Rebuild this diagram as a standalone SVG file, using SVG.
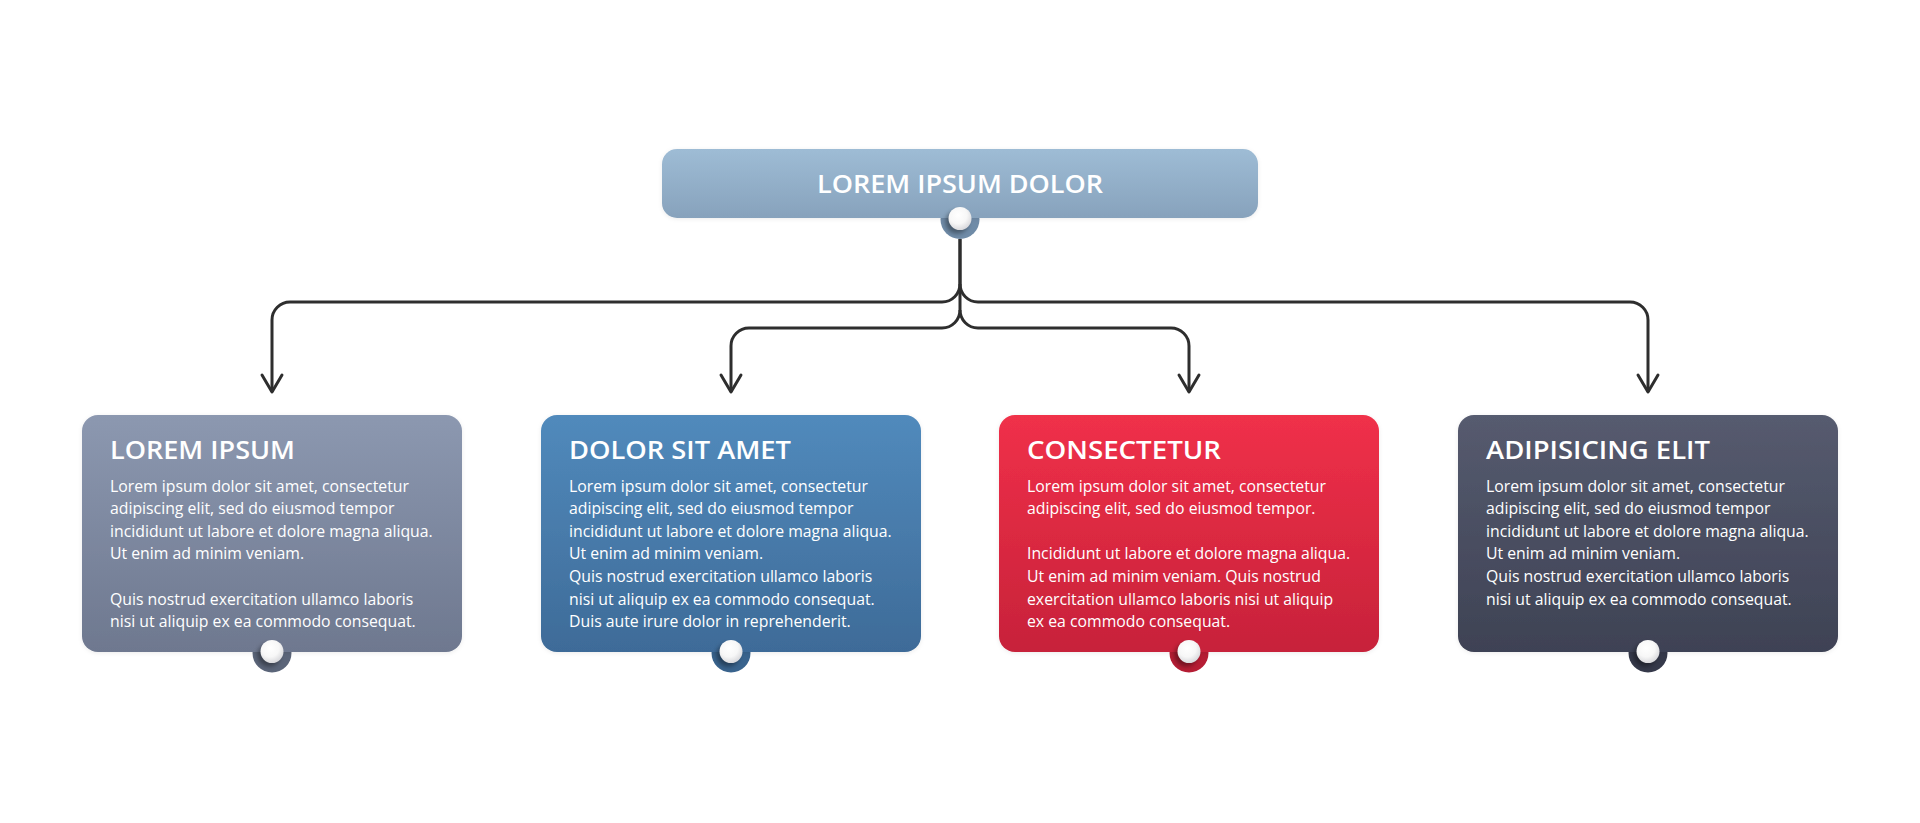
<svg xmlns="http://www.w3.org/2000/svg" width="1920" height="823" viewBox="0 0 1920 823">
  <defs>
    <linearGradient id="gTop" x1="0" y1="0" x2="0" y2="1">
      <stop offset="0" stop-color="#9ebcd5"/>
      <stop offset="1" stop-color="#87a2bc"/>
    </linearGradient>
    <linearGradient id="g1" x1="0" y1="0" x2="0" y2="1">
      <stop offset="0" stop-color="#8c98b0"/>
      <stop offset="1" stop-color="#6e788f"/>
    </linearGradient>
    <linearGradient id="g2" x1="0" y1="0" x2="0" y2="1">
      <stop offset="0" stop-color="#518abc"/>
      <stop offset="1" stop-color="#3e6b98"/>
    </linearGradient>
    <linearGradient id="g3" x1="0" y1="0" x2="0" y2="1">
      <stop offset="0" stop-color="#f03049"/>
      <stop offset="1" stop-color="#c7223a"/>
    </linearGradient>
    <linearGradient id="g4" x1="0" y1="0" x2="0" y2="1">
      <stop offset="0" stop-color="#565b6f"/>
      <stop offset="1" stop-color="#3e4254"/>
    </linearGradient>
    <radialGradient id="ball" cx="0.42" cy="0.35" r="0.7">
      <stop offset="0" stop-color="#ffffff"/>
      <stop offset="0.55" stop-color="#f7f7f7"/>
      <stop offset="1" stop-color="#d4d4d8"/>
    </radialGradient>
    <filter id="soft" x="-10%" y="-10%" width="120%" height="130%">
      <feDropShadow dx="0" dy="1" stdDeviation="2" flood-color="#000" flood-opacity="0.08"/>
    </filter>
    <filter id="ballShadow" x="-50%" y="-50%" width="200%" height="200%">
      <feGaussianBlur stdDeviation="2"/>
    </filter>
    <marker id="arrow" markerUnits="userSpaceOnUse" viewBox="-22 -14 26 28" markerWidth="26" markerHeight="28" refX="0" refY="0" orient="auto">
      <path d="M-17,-10 L0,0 L-17,10" fill="none" stroke="#2e2e2e" stroke-width="3" stroke-linecap="round" stroke-linejoin="round"/>
    </marker>
    <style>
      .title { font-family: "Open Sans", "Liberation Sans", sans-serif; font-weight: 600; fill: #ffffff; }
      .body { font-family: "Open Sans", "Liberation Sans", sans-serif; font-size: 15.8px; fill: #ffffff; }
      .conn { fill: none; stroke: #2e2e2e; stroke-width: 3; marker-end: url(#arrow); }
      .shadow { fill: #000; opacity: 0.35; filter: url(#ballShadow); }
    </style>
  </defs>

  <rect width="1920" height="823" fill="#ffffff"/>

  <g id="connectors">
    <path class="conn" d="M960,239 V284 A18,18 0 0 1 942,302 H290 A18,18 0 0 0 272,320 V392"/>
    <path class="conn" d="M960,239 V310 A18,18 0 0 1 942,328 H749 A18,18 0 0 0 731,346 V392"/>
    <path class="conn" d="M960,284 A18,18 0 0 0 978,302 H1630 A18,18 0 0 1 1648,320 V392"/>
    <path class="conn" d="M960,310 A18,18 0 0 0 978,328 H1171 A18,18 0 0 1 1189,346 V392"/>
  </g>

  <g id="node-top">
    <circle cx="960" cy="219.5" r="19.5" fill="#6f8ba7"/>
    <rect x="662" y="149" width="596" height="69" rx="15" fill="url(#gTop)" filter="url(#soft)"/>
    <circle class="shadow" cx="957" cy="222" r="11.5"/>
    <circle cx="960" cy="218.5" r="11.5" fill="url(#ball)"/>
    <text class="title" x="960" y="193" font-size="26" text-anchor="middle" textLength="286" lengthAdjust="spacingAndGlyphs">LOREM IPSUM DOLOR</text>
  </g>

  <g id="node-1">
    <circle cx="272" cy="653" r="19.5" fill="#5b6579"/>
    <rect x="82" y="415" width="380" height="237" rx="16" fill="url(#g1)" filter="url(#soft)"/>
    <circle class="shadow" cx="269" cy="655" r="11.5"/>
    <circle cx="272" cy="651.5" r="11.5" fill="url(#ball)"/>
    <text class="title" x="110" y="459" font-size="25" textLength="185" lengthAdjust="spacingAndGlyphs">LOREM IPSUM</text>
    <text class="body" x="110" y="491.5">Lorem ipsum dolor sit amet, consectetur</text>
    <text class="body" x="110" y="514.1">adipiscing elit, sed do eiusmod tempor</text>
    <text class="body" x="110" y="536.7">incididunt ut labore et dolore magna aliqua.</text>
    <text class="body" x="110" y="559.3">Ut enim ad minim veniam.</text>
    <text class="body" x="110" y="604.5">Quis nostrud exercitation ullamco laboris</text>
    <text class="body" x="110" y="627.1">nisi ut aliquip ex ea commodo consequat.</text>
  </g>

  <g id="node-2">
    <circle cx="731" cy="653" r="19.5" fill="#39638d"/>
    <rect x="541" y="415" width="380" height="237" rx="16" fill="url(#g2)" filter="url(#soft)"/>
    <circle class="shadow" cx="728" cy="655" r="11.5"/>
    <circle cx="731" cy="651.5" r="11.5" fill="url(#ball)"/>
    <text class="title" x="569" y="459" font-size="25" textLength="222" lengthAdjust="spacingAndGlyphs">DOLOR SIT AMET</text>
    <text class="body" x="569" y="491.5">Lorem ipsum dolor sit amet, consectetur</text>
    <text class="body" x="569" y="514.1">adipiscing elit, sed do eiusmod tempor</text>
    <text class="body" x="569" y="536.7">incididunt ut labore et dolore magna aliqua.</text>
    <text class="body" x="569" y="559.3">Ut enim ad minim veniam.</text>
    <text class="body" x="569" y="581.9">Quis nostrud exercitation ullamco laboris</text>
    <text class="body" x="569" y="604.5">nisi ut aliquip ex ea commodo consequat.</text>
    <text class="body" x="569" y="627.1">Duis aute irure dolor in reprehenderit.</text>
  </g>

  <g id="node-3">
    <circle cx="1189" cy="653" r="19.5" fill="#b51d34"/>
    <rect x="999" y="415" width="380" height="237" rx="16" fill="url(#g3)" filter="url(#soft)"/>
    <circle class="shadow" cx="1186" cy="655" r="11.5"/>
    <circle cx="1189" cy="651.5" r="11.5" fill="url(#ball)"/>
    <text class="title" x="1027" y="459" font-size="25" textLength="194" lengthAdjust="spacingAndGlyphs">CONSECTETUR</text>
    <text class="body" x="1027" y="491.5">Lorem ipsum dolor sit amet, consectetur</text>
    <text class="body" x="1027" y="514.1">adipiscing elit, sed do eiusmod tempor.</text>
    <text class="body" x="1027" y="559.3">Incididunt ut labore et dolore magna aliqua.</text>
    <text class="body" x="1027" y="581.9">Ut enim ad minim veniam. Quis nostrud</text>
    <text class="body" x="1027" y="604.5">exercitation ullamco laboris nisi ut aliquip</text>
    <text class="body" x="1027" y="627.1">ex ea commodo consequat.</text>
  </g>

  <g id="node-4">
    <circle cx="1648" cy="653" r="19.5" fill="#35394a"/>
    <rect x="1458" y="415" width="380" height="237" rx="16" fill="url(#g4)" filter="url(#soft)"/>
    <circle class="shadow" cx="1645" cy="655" r="11.5"/>
    <circle cx="1648" cy="651.5" r="11.5" fill="url(#ball)"/>
    <text class="title" x="1486" y="459" font-size="25" textLength="224" lengthAdjust="spacingAndGlyphs">ADIPISICING ELIT</text>
    <text class="body" x="1486" y="491.5">Lorem ipsum dolor sit amet, consectetur</text>
    <text class="body" x="1486" y="514.1">adipiscing elit, sed do eiusmod tempor</text>
    <text class="body" x="1486" y="536.7">incididunt ut labore et dolore magna aliqua.</text>
    <text class="body" x="1486" y="559.3">Ut enim ad minim veniam.</text>
    <text class="body" x="1486" y="581.9">Quis nostrud exercitation ullamco laboris</text>
    <text class="body" x="1486" y="604.5">nisi ut aliquip ex ea commodo consequat.</text>
  </g>
</svg>
